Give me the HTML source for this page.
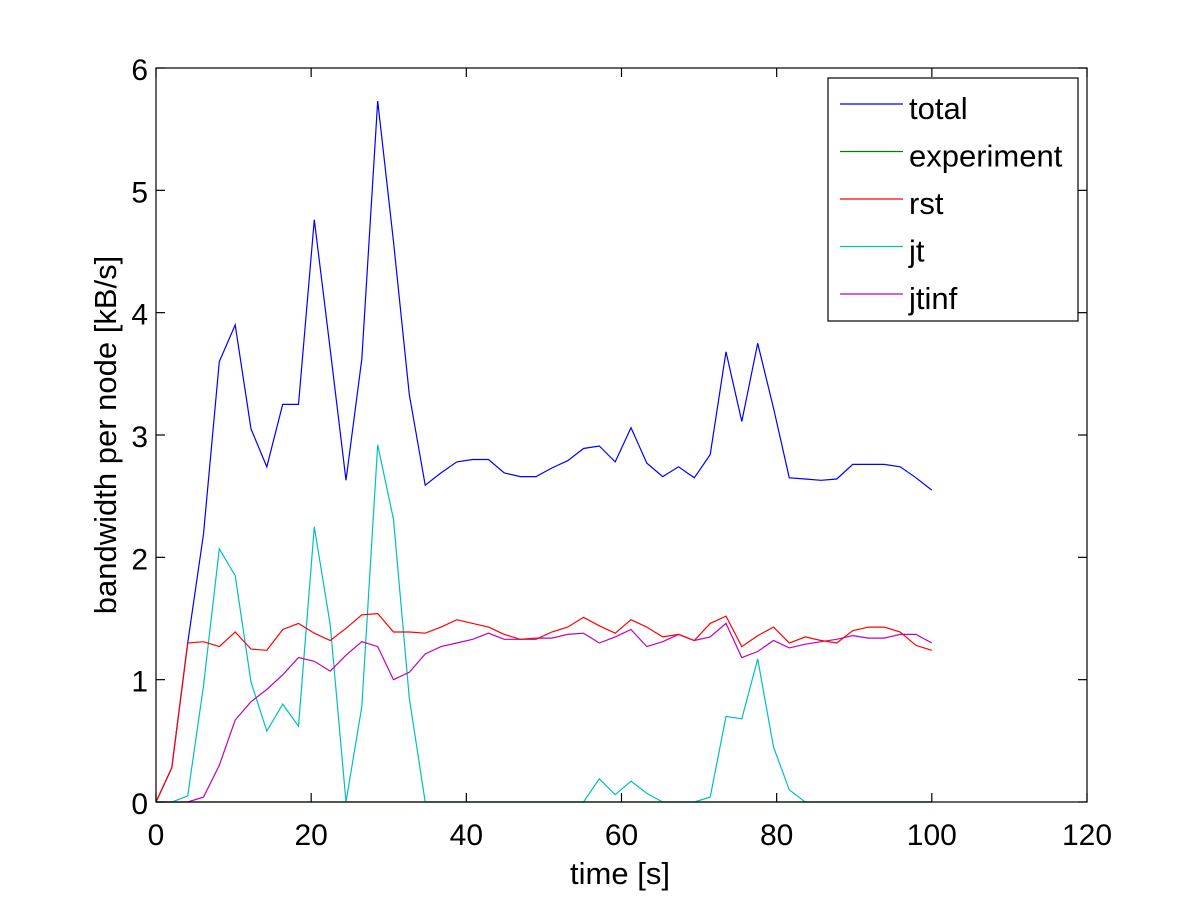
<!DOCTYPE html>
<html><head><meta charset="utf-8"><style>
html,body{margin:0;padding:0;background:#fff;}
svg{display:block;font-family:"Liberation Sans",sans-serif;}
</style></head><body>
<svg id="chart" width="1201" height="901" viewBox="0 0 1201 901" xmlns="http://www.w3.org/2000/svg">
<rect x="0" y="0" width="1201" height="901" fill="#fff"/>
<g id="series"></g>
<g id="axes"></g>
<g id="legend"></g>
</svg>
<script>
const xTicks = [0, 20, 40, 60, 80, 100, 120];
const yTicks = [0, 1, 2, 3, 4, 5, 6];
const seriesNames = ["total", "experiment", "rst", "jt", "jtinf"];
const total = [0,0.28,1.3,2.19,3.6,3.9,3.05,2.74,3.25,3.25,4.76,3.7,2.63,3.62,5.73,4.58,3.33,2.59,2.69,2.78,2.8,2.8,2.69,2.66,2.66,2.73,2.79,2.89,2.91,2.78,3.06,2.77,2.66,2.74,2.65,2.84,3.68,3.11,3.75,3.22,2.65,2.64,2.63,2.64,2.76,2.76,2.76,2.74,2.65,2.55];
const experiment = [0,0,0,0,0,0,0,0,0,0,0,0,0,0,0,0,0,0,0,0,0,0,0,0,0,0,0,0,0,0,0,0,0,0,0,0,0,0,0,0,0,0,0,0,0,0,0,0,0,0];
const rst = [0,0.28,1.3,1.31,1.27,1.39,1.25,1.24,1.41,1.46,1.38,1.32,1.42,1.53,1.54,1.39,1.39,1.38,1.43,1.49,1.46,1.43,1.37,1.33,1.33,1.39,1.43,1.51,1.44,1.38,1.49,1.43,1.35,1.37,1.32,1.46,1.52,1.27,1.36,1.43,1.30,1.35,1.32,1.30,1.40,1.43,1.43,1.39,1.28,1.24];
const jt = [0,0,0.05,0.95,2.07,1.85,0.98,0.58,0.8,0.62,2.25,1.45,0,0.78,2.92,2.31,0.85,0,0,0,0,0,0,0,0,0,0,0,0.19,0.06,0.17,0.07,0,0,0,0.04,0.70,0.68,1.17,0.45,0.1,0,0,0,0,0,0,0,0,0];
const jtinf = [0,0,0,0.04,0.3,0.67,0.82,0.92,1.04,1.18,1.15,1.07,1.2,1.31,1.27,1.0,1.06,1.21,1.27,1.30,1.33,1.38,1.33,1.33,1.34,1.34,1.37,1.38,1.30,1.35,1.41,1.27,1.31,1.37,1.32,1.35,1.46,1.18,1.23,1.32,1.26,1.29,1.31,1.33,1.36,1.34,1.34,1.37,1.37,1.30];
const tEnd = 100;

const NS = "http://www.w3.org/2000/svg";
const L = 156, R = 1087, T = 68, B = 802;
const xMin = 0, xMax = 120, yMin = 0, yMax = 6;
function xs(v){ return L + (v - xMin) / (xMax - xMin) * (R - L); }
function ys(v){ return B - (v - yMin) / (yMax - yMin) * (B - T); }
function mk(tag, attrs, parent){
  const e = document.createElementNS(NS, tag);
  for (const k in attrs) e.setAttribute(k, attrs[k]);
  parent.appendChild(e);
  return e;
}
const colors = {total:"#0000ff", experiment:"#008000", rst:"#ff0000", jt:"#00bfbf", jtinf:"#bf00bf"};
const data = {total, experiment, rst, jt, jtinf};
const gS = document.getElementById("series");
const drawOrder = ["total","experiment","jt","jtinf","rst"];
for (const name of drawOrder){
  const vals = data[name];
  const n = vals.length;
  const pts = vals.map((v,i)=> xs(i*tEnd/(n-1)).toFixed(1)+","+ys(v).toFixed(1)).join(" ");
  const pl = mk("polyline", {points: pts, fill:"none", stroke: colors[name], "stroke-width":"1.2"}, gS);
  
  
}
const gA = document.getElementById("axes");
const frame = mk("rect", {x:L, y:T, width:R-L, height:B-T, fill:"none", stroke:"#000", "stroke-width":"1.2"}, gA);


for (const t of xTicks){
  const x = xs(t);
  mk("line", {x1:x, y1:B, x2:x, y2:B-9, stroke:"#000", "stroke-width":"1.2"}, gA);
  mk("line", {x1:x, y1:T, x2:x, y2:T+9, stroke:"#000", "stroke-width":"1.2"}, gA);
  const tx = mk("text", {x:x, y:845, "text-anchor":"middle", "font-size":"30"}, gA);
  tx.textContent = t;
  
  
}
for (const t of yTicks){
  const y = ys(t);
  mk("line", {x1:L, y1:y, x2:L+9, y2:y, stroke:"#000", "stroke-width":"1.2"}, gA);
  mk("line", {x1:R, y1:y, x2:R-9, y2:y, stroke:"#000", "stroke-width":"1.2"}, gA);
  const ty = mk("text", {x:L-8, y:y+12, "text-anchor":"end", "font-size":"30"}, gA);
  ty.textContent = t;
  
  
}
const xl = mk("text", {x:620, y:884, "text-anchor":"middle", "font-size":"31"}, gA);
xl.textContent = "time [s]";


const yl = mk("text", {x:0, y:0, "text-anchor":"middle", "font-size":"31", transform:"translate(116,435) rotate(-90)"}, gA);
yl.textContent = "bandwidth per node [kB/s]";



const gL = document.getElementById("legend");
const box = mk("rect", {x:828, y:78, width:250, height:243, fill:"#fff", stroke:"#000", "stroke-width":"1.2"}, gL);


seriesNames.forEach((name, i)=>{
  const y = 104 + i*47.5;
  const ln = mk("line", {x1:840, y1:y, x2:903, y2:y, stroke: colors[name], "stroke-width":"1.2"}, gL);
  
  
  const tx = mk("text", {x:909, y:y+15, "font-size":"31"}, gL);
  tx.textContent = name;
  
  
});
</script>
</body></html>
